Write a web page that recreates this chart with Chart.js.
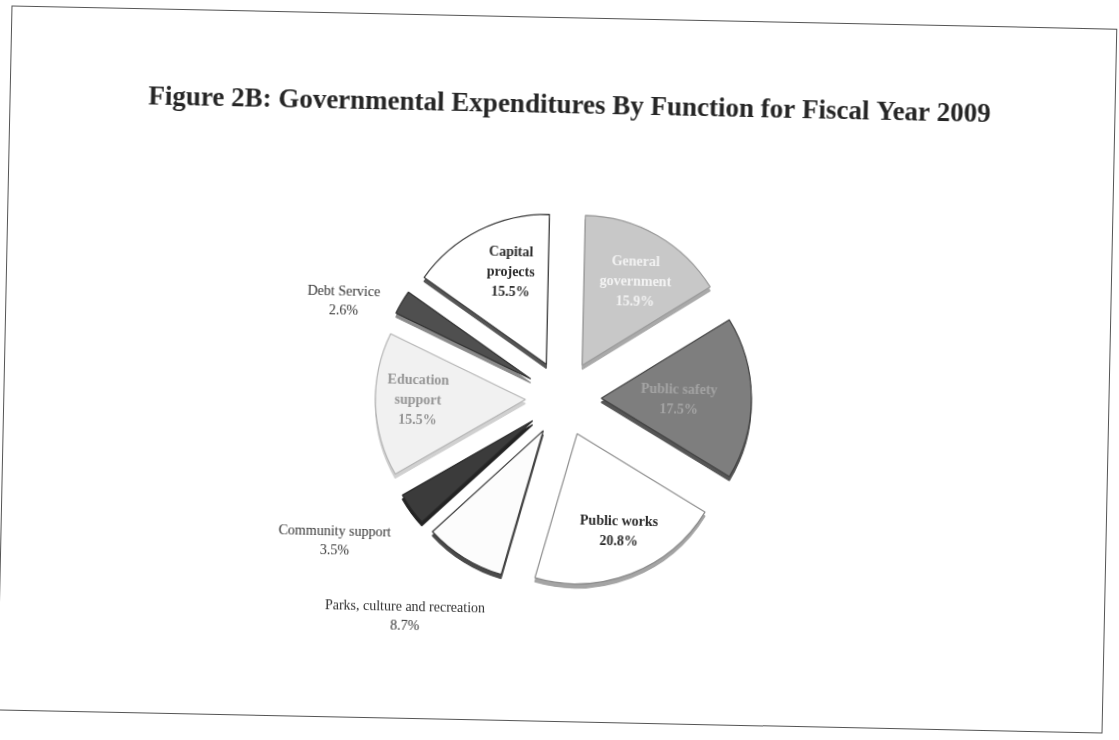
<!DOCTYPE html>
<html>
<head>
<meta charset="utf-8">
<title>Governmental Expenditures By Function</title>
<script src="https://cdn.jsdelivr.net/npm/chart.js@4.4.1/dist/chart.umd.min.js"></script>
<style>
  html, body { margin: 0; padding: 0; background: #fff; }
  body { width: 1119px; height: 740px; overflow: hidden; position: relative; }
  #sheet {
    position: absolute; left: 4px; top: 17px; width: 1106px; height: 705px;
    border: 1.6px solid #555; box-sizing: border-box;
    transform: rotate(1.2deg);
  }
  #plot { position: absolute; left: 0; top: 0; right: 0; bottom: 0; }
</style>
</head>
<body>
<div id="sheet"><div id="plot"><canvas id="fig2b"></canvas></div></div>
<script>
const categories = ["General government", "Public safety", "Public works",
  "Parks, culture and recreation", "Community support", "Education support",
  "Debt Service", "Capital projects"];
const shares = [15.9, 17.5, 20.8, 8.7, 3.5, 15.5, 2.6, 15.5];
const labelLines = [["General", "government"], ["Public safety"], ["Public works"],
  ["Parks, culture and recreation"], ["Community support"], ["Education", "support"],
  ["Debt Service"], ["Capital", "projects"]];

// slice looks
const fills   = ["#c8c8c8", "#7e7e7e", "#ffffff", "#fcfcfc", "#3b3b3b", "#f1f1f1", "#4f4f4f", "#ffffff"];
const edges   = ["#9a9a9a", "#444444", "#8c8c8c", "#3c3c3c", "#2a2a2a", "#b5b5b5", "#2f2f2f", "#3a3a3a"];
const rims    = ["#a9a9a9", "#555555", "#a4a4a4", "#4a4a4a", "#222222", "#d0d0d0", "#8a8a8a", "#555555"];
const inkCols = ["#f3f3f3", "#a4a4a4", "#2b2b2b", "#333333", "#333333", "#959595", "#333333", "#2b2b2b"];

// label placement: distance in radii from the centre, turn in degrees off the slice middle
const labelInside = [true, true, true, false, false, true, false, true];
const labelRadius = [0.91, 0.77, 0.96, 1.8, 1.8, 0.97, 1.6, 0.91];
const labelTurn   = [2, 1, -1.5, 4, 4, 1, -7, 4];

const pieRadius = 150;
const pullOut = 38;    // how far every slice sits from the centre
const rimDepth = 4;
const serif = "'Liberation Serif', 'Times New Roman', serif";

function midAngle(arc) {
  const { startAngle, endAngle } = arc.getProps(["startAngle", "endAngle"], true);
  return (startAngle + endAngle) / 2;
}

// exploded pie: each arc element is drawn pushed out along its middle,
// with a darker copy a few pixels lower for the disc edge
const explodedPie = {
  id: "explodedPie",
  beforeDatasetsDraw(chart) {
    const ctx = chart.ctx;
    const arcs = chart.getDatasetMeta(0).data;
    const shifts = arcs.map(arc => {
      const m = midAngle(arc);
      return [Math.cos(m) * pullOut, Math.sin(m) * pullOut];
    });
    arcs.forEach((arc, i) => {
      const ghost = Object.create(arc);
      ghost.options = Object.assign({}, arc.options, {
        backgroundColor: rims[i], borderColor: rims[i]
      });
      ctx.save();
      ctx.translate(shifts[i][0], shifts[i][1] + rimDepth);
      ghost.draw(ctx);
      ctx.restore();
    });
    arcs.forEach((arc, i) => {
      ctx.save();
      ctx.translate(shifts[i][0], shifts[i][1]);
      arc.draw(ctx);
      ctx.restore();
    });
    return false;
  }
};

// drawn in afterDraw because the default dataset pass is skipped above
const sliceLabels = {
  id: "sliceLabels",
  afterDraw(chart) {
    const ctx = chart.ctx;
    chart.getDatasetMeta(0).data.forEach((arc, i) => {
      const { x, y } = arc.getProps(["x", "y"], true);
      const a = midAngle(arc) + labelTurn[i] * Math.PI / 180;
      const r = pieRadius * labelRadius[i];
      const lx = x + Math.cos(a) * r;
      const ly = y + Math.sin(a) * r;
      const lines = labelLines[i].concat(shares[i].toFixed(1) + "%");
      const lh = labelInside[i] ? 20 : 19;
      ctx.save();
      ctx.font = (labelInside[i] ? "bold " : "") + "14px " + serif;
      ctx.fillStyle = inkCols[i];
      ctx.textAlign = "center";
      ctx.textBaseline = "middle";
      lines.forEach((t, k) => ctx.fillText(t, lx, ly + (k - (lines.length - 1) / 2) * lh));
      ctx.restore();
    });
  }
};

new Chart(document.getElementById("fig2b"), {
  type: "pie",
  data: {
    labels: categories,
    datasets: [{
      data: shares,
      backgroundColor: fills,
      borderColor: edges,
      borderWidth: 1.2,
      radius: pieRadius
    }]
  },
  options: {
    responsive: true,
    maintainAspectRatio: false,
    animation: false,
    layout: { padding: { left: 14, right: 0, top: 0, bottom: 52 } },
    plugins: {
      legend: { display: false },
      tooltip: { enabled: false },
      title: {
        display: true,
        text: "Figure 2B: Governmental Expenditures By Function for Fiscal Year 2009",
        color: "#262626",
        font: { family: serif, size: 27, weight: "bold" },
        padding: { top: 72, bottom: 5 }
      }
    }
  },
  plugins: [explodedPie, sliceLabels]
});
</script>
</body>
</html>
